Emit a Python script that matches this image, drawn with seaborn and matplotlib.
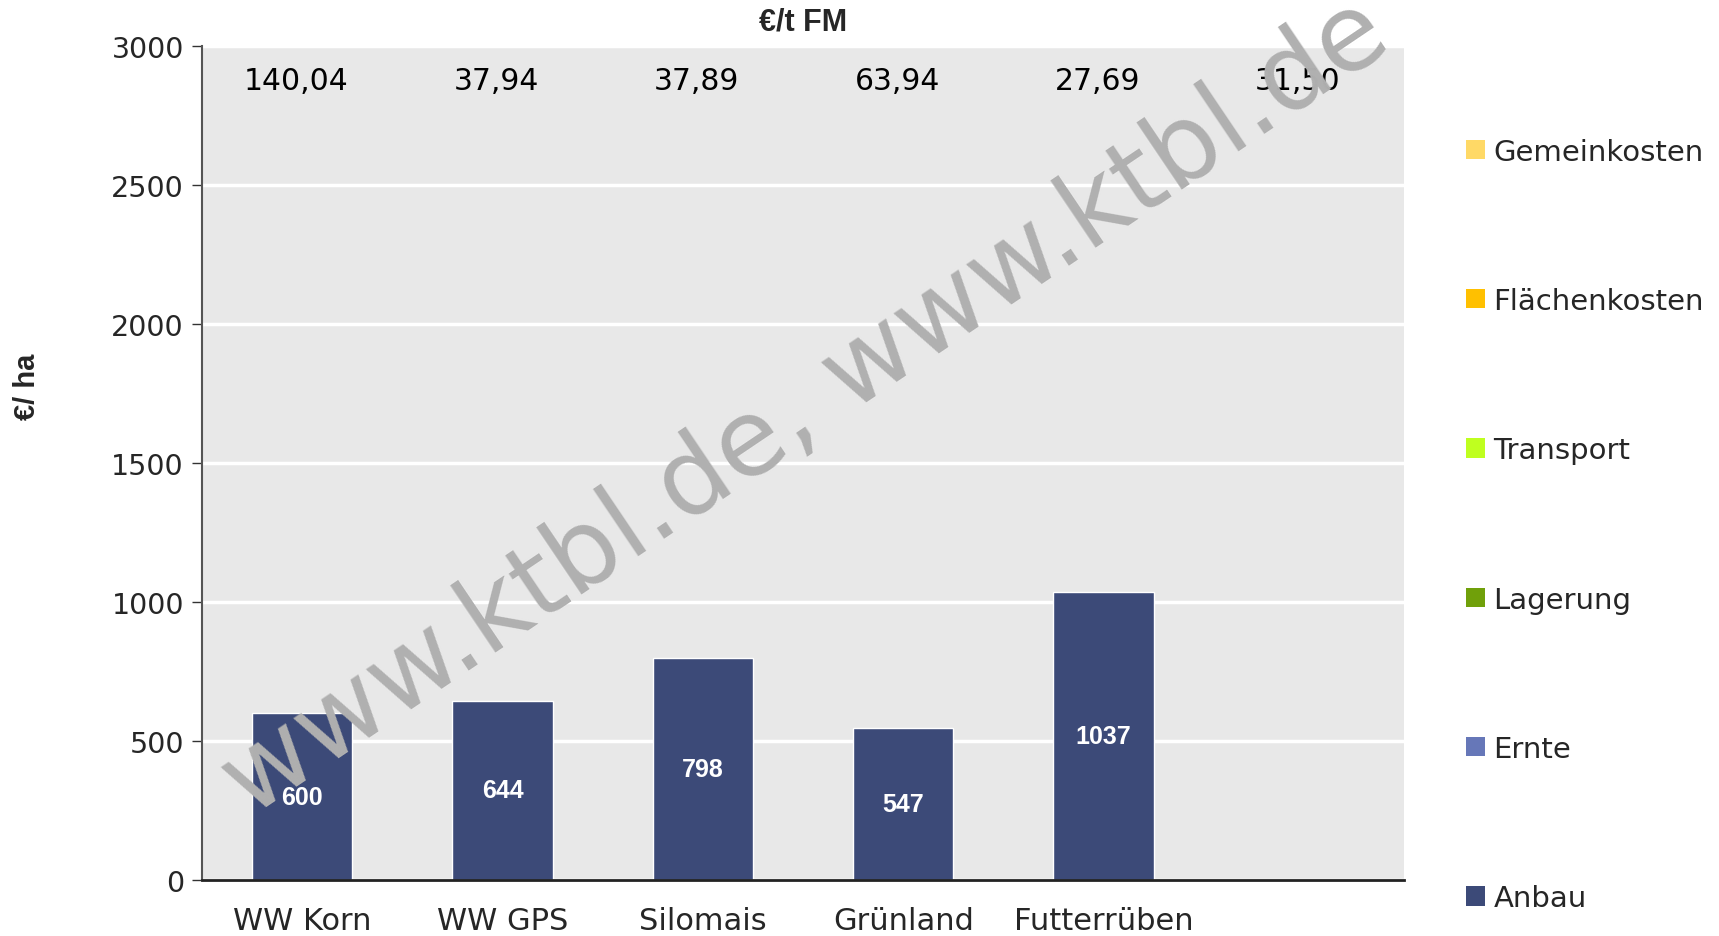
import numpy as np
import pandas as pd
import matplotlib
matplotlib.use("Agg")
import matplotlib.pyplot as plt
from matplotlib.patches import Patch
import seaborn as sns

categories = ["WW Korn", "WW GPS", "Silomais", "Grünland", "Futterrüben", ""]
anbau = [600, 644, 798, 547, 1037, np.nan]
bar_labels = ["600", "644", "798", "547", "1037", ""]
per_t_fm = ["140,04", "37,94", "37,89", "63,94", "27,69", "31,50"]
series = ["Gemeinkosten", "Flächenkosten", "Transport", "Lagerung", "Ernte", "Anbau"]
series_colors = ["#FFD966", "#FFC000", "#BFFF1F", "#70A00A", "#6677B8", "#3C4A78"]
yticks = [0, 500, 1000, 1500, 2000, 2500, 3000]

sns.set_theme(style="white")
plt.rcParams["font.family"] = ["DejaVu Sans"]

fig = plt.figure(figsize=(17.19, 9.37), dpi=100)
ax = fig.add_axes([0.1175, 0.0598, 0.8168 - 0.1175, 0.9498 - 0.0598])
ax.set_facecolor("#E8E8E8")

df = pd.DataFrame({"cat": categories, "val": anbau})
sns.barplot(data=df, x="cat", y="val", order=categories, color="#3C4A78",
            saturation=1, width=0.5, ax=ax, zorder=2)

ax.set_ylim(0, 3000)
ax.set_xlim(-0.5, 5.5)
ax.set_yticks(yticks)
ax.set_yticklabels([str(t) for t in yticks], fontsize=20.5)
ax.yaxis.grid(True, color="white", linewidth=2.5, zorder=0)
ax.set_axisbelow(True)
ax.set_xticks(range(len(categories)))
ax.set_xticklabels(categories, fontsize=22)
ax.set_xticks(np.arange(-0.5, len(categories)), minor=True)
ax.tick_params(axis="x", which="major", length=0, pad=19)
ax.tick_params(axis="x", which="minor", length=10, width=1, color="#333333", direction="out")
ax.tick_params(axis="y", length=7, width=1, color="#333333", direction="out", left=True, pad=6)
ax.set_xlabel("")
ax.set_ylabel("")
for s in ["top", "right"]:
    ax.spines[s].set_visible(False)
ax.spines["left"].set_color("#555555")
ax.spines["left"].set_linewidth(1.5)
ax.spines["bottom"].set_color("#222222")
ax.spines["bottom"].set_linewidth(2)

# values on bars
for i, (v, lab) in enumerate(zip(anbau, bar_labels)):
    if lab:
        ax.text(i, v / 2, lab, ha="center", va="center", color="white",
                fontsize=18, fontweight="bold", family="Liberation Sans", zorder=5)

# €/t FM row
for i, t in enumerate(per_t_fm):
    ax.text(i - 0.03, 2875, t, ha="center", va="center", fontsize=21.5, color="black", zorder=5)

ax.set_title("€/t FM", fontsize=22, fontweight="bold", family="Liberation Sans", pad=12)
fig.text(27 / 1719, 1 - 387 / 937, "€/ ha", rotation=90, ha="center", va="center",
         fontsize=21, fontweight="bold", family="Liberation Sans")

handles = [Patch(facecolor=c, edgecolor="none", label=s) for s, c in zip(series, series_colors)]
fig.legend(handles=handles, loc="upper left", bbox_to_anchor=(0.853, 0.852),
           frameon=False, fontsize=21, handlelength=0.65, handleheight=0.65,
           handletextpad=0.28, labelspacing=4.16, borderpad=0, borderaxespad=0)

# watermark
fig.text(806 / 1719, 1 - 408 / 937, "www.ktbl.de, www.ktbl.de", rotation=34,
         rotation_mode="anchor", ha="center", va="center", fontsize=77,
         color="#B0B0B0", zorder=4)

fig.savefig("out.png", dpi=100)
